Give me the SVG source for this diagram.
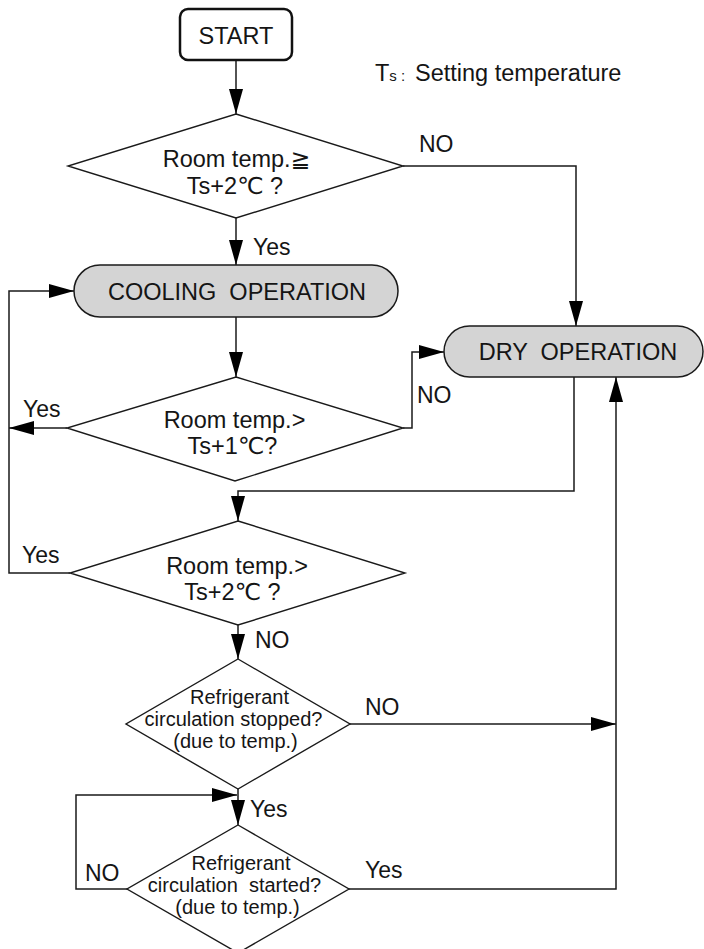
<svg xmlns="http://www.w3.org/2000/svg" width="704" height="949" viewBox="0 0 704 949">
<defs>
<style>
text{font-family:"Liberation Sans","DejaVu Sans",Arial,sans-serif;fill:#151515;}
.t{font-size:23.5px;}
.c{text-anchor:middle;}
.s{font-size:20px;}
.lbl{font-size:23px;}
.ln{fill:none;stroke:#1a1a1a;stroke-width:1.5;}
.dia{fill:#fff;stroke:#1a1a1a;stroke-width:1.4;}
.op{fill:#d4d4d4;stroke:#1a1a1a;stroke-width:1.5;}
</style>
<marker id="ah" markerUnits="userSpaceOnUse" markerWidth="26" markerHeight="15" refX="25" refY="7" orient="auto">
<path d="M0,0 L25,7 L0,14 Z" fill="#000"/>
</marker>
</defs>
<rect width="704" height="949" fill="#fff"/>

<g id="legend">
<text class="t" x="375" y="81">T<tspan font-size="15">s : </tspan><tspan x="415">Setting temperature</tspan></text>
</g>

<g id="connectors">
<path class="ln" d="M236,60 V114" marker-end="url(#ah)"/>
<path class="ln" d="M403,166 H576 V326" marker-end="url(#ah)"/>
<path class="ln" d="M236,218 V265" marker-end="url(#ah)"/>
<path class="ln" d="M236,317 V377" marker-end="url(#ah)"/>
<path class="ln" d="M67,428 H9" marker-end="url(#ah)"/>
<path class="ln" d="M70,573 H9 V291 H74" marker-end="url(#ah)"/>
<path class="ln" d="M403,428 H412 V352 H444" marker-end="url(#ah)"/>
<path class="ln" d="M574,377 V491 H238 V521" marker-end="url(#ah)"/>
<path class="ln" d="M238,625 V659" marker-end="url(#ah)"/>
<path class="ln" d="M350,724 H616" marker-end="url(#ah)"/>
<path class="ln" d="M238,789 V825" marker-end="url(#ah)"/>
<path class="ln" d="M127,889 H76 V795 H237" marker-end="url(#ah)"/>
<path class="ln" d="M349,889 H616 V377" marker-end="url(#ah)"/>
<text class="lbl" x="419" y="152">NO</text>
<text class="lbl" x="253" y="255">Yes</text>
<text class="lbl" x="23" y="417">Yes</text>
<text class="lbl" x="417" y="403">NO</text>
<text class="lbl" x="22" y="563">Yes</text>
<text class="lbl" x="255" y="648">NO</text>
<text class="lbl" x="365" y="715">NO</text>
<text class="lbl" x="250" y="817">Yes</text>
<text class="lbl" x="85" y="881">NO</text>
<text class="lbl" x="365" y="878">Yes</text>
</g>

<g id="start">
<rect x="180" y="9" width="112" height="51" rx="8" fill="#fff" stroke="#111" stroke-width="2.5"/>
<text class="t c" x="236" y="44">START</text>
</g>

<g id="d1">
<polygon class="dia" points="236,114 403,166 236,218 68,166"/>
<text class="t c" x="236.5" y="167">Room temp.≧</text>
<text class="t c" x="235" y="194">Ts+2℃ ?</text>
</g>

<g id="cooling">
<rect class="op" x="74" y="265" width="324" height="52" rx="26"/>
<text class="t c" x="237" y="300" xml:space="preserve">COOLING  OPERATION</text>
</g>

<g id="dry">
<rect class="op" x="444" y="326" width="259" height="51" rx="25.5"/>
<text class="t c" x="578" y="360" xml:space="preserve">DRY  OPERATION</text>
</g>

<g id="d2">
<polygon class="dia" points="236,377 403,428 235,481 67,428"/>
<text class="t c" x="234.5" y="428">Room temp.&gt;</text>
<text class="t c" x="232.5" y="454">Ts+1℃?</text>
</g>

<g id="d3">
<polygon class="dia" points="238,521 405,573 238,625 70,573"/>
<text class="t c" x="237" y="574">Room temp.&gt;</text>
<text class="t c" x="232.5" y="600">Ts+2℃ ?</text>
</g>

<g id="d4">
<polygon class="dia" points="238,659 350,724 238,789 126,724"/>
<text class="s c" x="239.5" y="704">Refrigerant</text>
<text class="s c" x="233.5" y="726">circulation stopped?</text>
<text class="s c" x="235.5" y="748">(due to temp.)</text>
</g>

<g id="d5">
<polygon class="dia" points="238,825 349,889 238,953 127,889"/>
<text class="s c" x="241" y="870">Refrigerant</text>
<text class="s c" x="234.5" y="892" xml:space="preserve">circulation  started?</text>
<text class="s c" x="237.5" y="914">(due to temp.)</text>
</g>
</svg>
